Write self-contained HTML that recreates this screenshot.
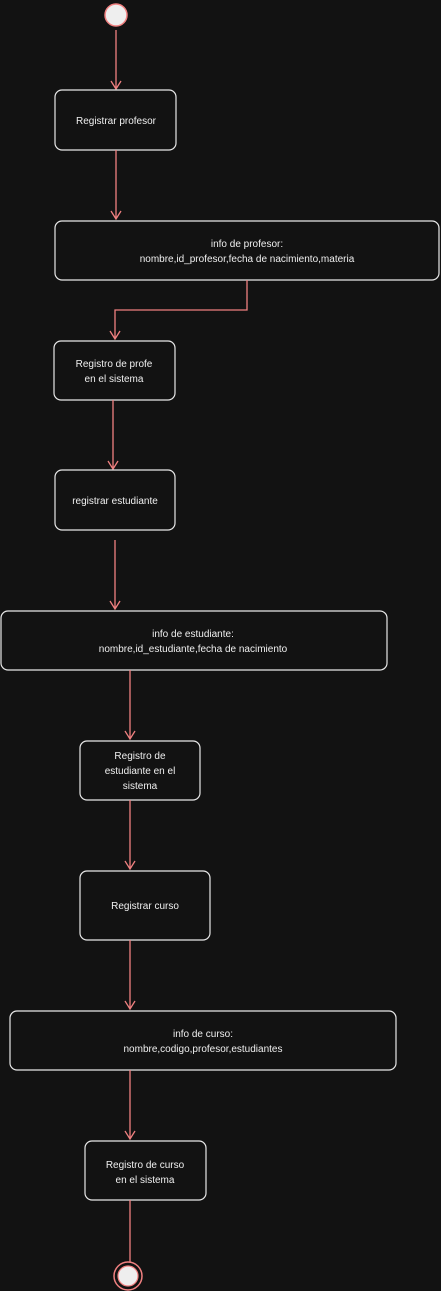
<!DOCTYPE html>
<html><head><meta charset="utf-8"><style>
html,body{margin:0;padding:0;background:#121212;}
svg{display:block}
text{font-family:"Liberation Sans",sans-serif;font-size:10px;fill:#f0f0f0;text-anchor:middle}
.b{fill:#121212;stroke:#e8e8e8;stroke-width:1.2}
.l{stroke:#f08080;stroke-width:1.3;fill:none}
</style></head><body>
<svg width="441" height="1291" viewBox="0 0 441 1291" xmlns="http://www.w3.org/2000/svg">
<circle cx="116" cy="15" r="11" fill="#eee" stroke="#f08080" stroke-width="1.5"/>
<path class="l" d="M116,30 V89 M111,81 L116,89 L121,81"/>
<rect class="b" x="55" y="90" width="121" height="60" rx="7"/>
<text x="116" y="124">Registrar profesor</text>
<path class="l" d="M116,150 V219 M111,211 L116,219 L121,211"/>
<rect class="b" x="55" y="221" width="384" height="59" rx="7"/>
<text x="247" y="247">info de profesor:</text>
<text x="247" y="262">nombre,id_profesor,fecha de nacimiento,materia</text>
<path class="l" d="M247,280 V310 H115 V339 M110,331 L115,339 L120,331"/>
<rect class="b" x="54" y="341" width="121" height="59" rx="7"/>
<text x="114" y="367">Registro de profe</text>
<text x="114" y="382">en el sistema</text>
<path class="l" d="M113,400 V469 M108,461 L113,469 L118,461"/>
<rect class="b" x="55" y="470" width="120" height="60" rx="7"/>
<text x="115" y="504">registrar estudiante</text>
<path class="l" d="M115,540 V609 M110,601 L115,609 L120,601"/>
<rect class="b" x="1" y="611" width="386" height="59" rx="7"/>
<text x="193" y="637">info de estudiante:</text>
<text x="193" y="652">nombre,id_estudiante,fecha de nacimiento</text>
<path class="l" d="M130,670 V739 M125,731 L130,739 L135,731"/>
<rect class="b" x="80" y="741" width="120" height="59" rx="7"/>
<text x="140" y="759">Registro de</text>
<text x="140" y="774">estudiante en el</text>
<text x="140" y="789">sistema</text>
<path class="l" d="M130,800 V869 M125,861 L130,869 L135,861"/>
<rect class="b" x="80" y="871" width="130" height="69" rx="7"/>
<text x="145" y="909">Registrar curso</text>
<path class="l" d="M130,940 V1009 M125,1001 L130,1009 L135,1001"/>
<rect class="b" x="10" y="1011" width="386" height="59" rx="7"/>
<text x="203" y="1037">info de curso:</text>
<text x="203" y="1052">nombre,codigo,profesor,estudiantes</text>
<path class="l" d="M130,1070 V1139 M125,1131 L130,1139 L135,1131"/>
<rect class="b" x="85" y="1141" width="121" height="59" rx="7"/>
<text x="145" y="1168">Registro de curso</text>
<text x="145" y="1183">en el sistema</text>
<path class="l" d="M130,1200 V1262"/>
<circle cx="128" cy="1276" r="14" fill="#121212" stroke="#f08080" stroke-width="1.5"/>
<circle cx="128" cy="1276" r="10" fill="#eee" stroke="#f08080" stroke-width="1.2"/>
</svg>
</body></html>
